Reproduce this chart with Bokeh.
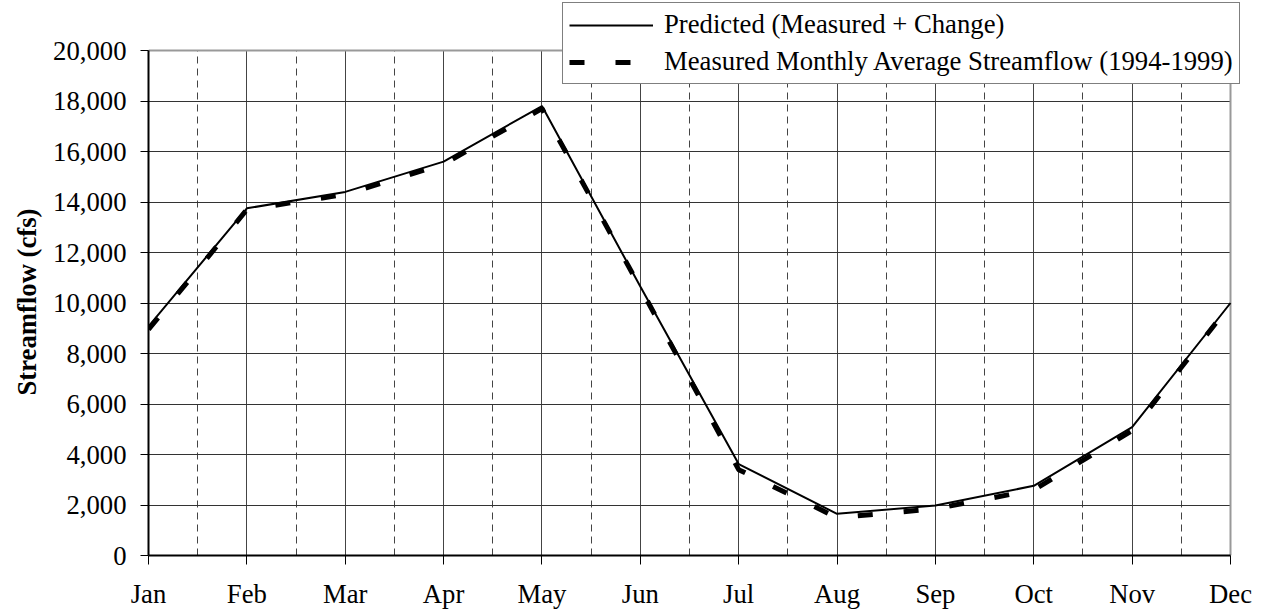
from bokeh.plotting import figure
from bokeh.models import (Range1d, FixedTicker, NumeralTickFormatter, Legend,
                          LegendItem, Title)
from bokeh.embed import file_html
from bokeh.resources import INLINE

# ---- data ----
months = ["Jan", "Feb", "Mar", "Apr", "May", "Jun",
          "Jul", "Aug", "Sep", "Oct", "Nov", "Dec"]
predicted = [9070, 13750, 14400, 15600, 17800, 10650,
             3620, 1650, 1980, 2760, 5080, 10000]
measured = [8950, 13700, 14300, 15500, 17700, 10600,
            3400, 1500, 1850, 2600, 4950, 9950]
y_ticks = [0, 2000, 4000, 6000, 8000, 10000, 12000, 14000, 16000, 18000, 20000]
pred_label = "Predicted (Measured + Change)"
meas_label = "Measured Monthly Average Streamflow (1994-1999)"
y_title = "Streamflow (cfs)"

month_pos = list(range(len(months)))
half_pos = [i + 0.5 for i in range(len(months) - 1)]
y_max = y_ticks[-1]
x_max = len(months) - 1

FONT = "Liberation Serif"
FS = "26.7px"

# The frame is stretched beyond the 0..20,000 / Jan..Dec area (up to the
# legend's top and right edges) so that the overlapping legend is not clipped.
PX_PER_MONTH = (1230 - 148) / 11.0
X_END = x_max + 12 / PX_PER_MONTH
Y_TOP = y_max * 554.0 / 505.0

p = figure(width=1252, height=612, output_backend="svg", toolbar_location=None,
           x_range=Range1d(0, X_END), y_range=Range1d(0, Y_TOP),
           min_border_left=147, min_border_right=10, min_border_top=1,
           min_border_bottom=57)
p.background_fill_color = "white"
p.border_fill_color = "white"
p.outline_line_color = None

# grid
p.xgrid.ticker = FixedTicker(ticks=month_pos, minor_ticks=half_pos)
p.xgrid.grid_line_color = "#444444"
p.xgrid.grid_line_width = 1
p.xgrid.minor_grid_line_color = "#444444"
p.xgrid.minor_grid_line_dash = "7 5"
p.xgrid.minor_grid_line_width = 1
p.xgrid.cross_bounds = (0, y_max)
p.ygrid.ticker = FixedTicker(ticks=y_ticks)
p.ygrid.grid_line_color = "#333333"
p.ygrid.grid_line_width = 1
p.ygrid.cross_bounds = (0, x_max)

# plot-area borders: grey top edge at 20,000 and grey right edge at Dec
p.segment(x0=[0, x_max], y0=[y_max, 0], x1=[x_max, x_max], y1=[y_max, y_max],
          line_color="#999999", line_width=2)

r_meas = p.line(month_pos, measured, line_color="black", line_width=5,
                line_dash="15 31")
r_pred = p.line(month_pos, predicted, line_color="black", line_width=2)

# axes
p.xaxis.ticker = FixedTicker(ticks=month_pos, minor_ticks=half_pos)
p.xaxis.major_label_overrides = {i: m for i, m in enumerate(months)}
p.xaxis.bounds = (0, x_max)
p.yaxis.ticker = FixedTicker(ticks=y_ticks)
p.yaxis.formatter = NumeralTickFormatter(format="0,0")
p.yaxis.bounds = (0, y_max)

for ax in (p.xaxis, p.yaxis):
    ax.major_label_text_font = FONT
    ax.major_label_text_font_size = FS
    ax.major_label_text_color = "black"
    ax.axis_line_color = "black"
    ax.axis_line_width = 2
    ax.major_tick_line_color = "black"
    ax.major_tick_line_width = 1
    ax.major_tick_in = 0
    ax.minor_tick_line_color = None

p.xaxis.major_tick_out = 9
p.xaxis.major_label_standoff = 14
p.yaxis.major_tick_out = 8
p.yaxis.major_label_standoff = 14

# y-axis title, centred on the 0..20,000 span (not on the stretched frame)
ytitle = Title(text=y_title, align="left", offset=160, standoff=18,
               text_font=FONT, text_font_size=FS, text_font_style="bold",
               text_color="black")
p.add_layout(ytitle, "left")

legend = Legend(items=[LegendItem(label=pred_label, renderers=[r_pred]),
                       LegendItem(label=meas_label, renderers=[r_meas])],
                location=(414, 471))
legend.label_text_font = FONT
legend.label_text_font_size = FS
legend.label_text_color = "black"
legend.border_line_color = "black"
legend.border_line_width = 1
legend.background_fill_color = "white"
legend.background_fill_alpha = 1
legend.glyph_width = 84
legend.glyph_height = 30
legend.label_height = 30
legend.label_standoff = 11
legend.padding = 6
legend.spacing = 6
legend.margin = 0
p.add_layout(legend)

open("out.html", "w").write(file_html(p, INLINE))
